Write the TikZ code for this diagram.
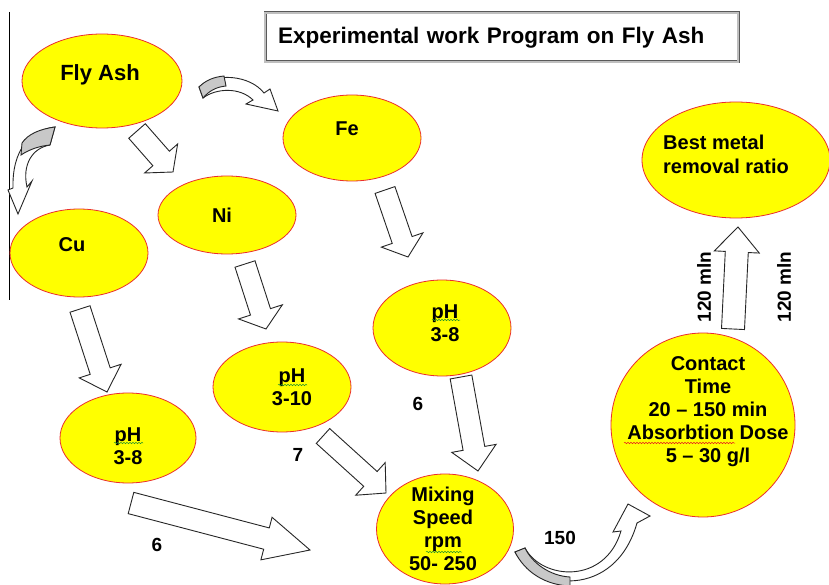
\documentclass[tikz,border=0pt]{standalone}
\usepackage{fontspec}
\setmainfont{Liberation Sans}
\usetikzlibrary{shapes.geometric,calc,decorations.pathmorphing}

\definecolor{ashyellow}{RGB}{255,255,0}
\definecolor{rimred}{RGB}{235,45,45}
\definecolor{facegray}{RGB}{200,200,200}
\definecolor{spellgreen}{RGB}{40,150,40}
\definecolor{spellred}{RGB}{230,30,30}

% hollow block arrow: tail, tip, half shaft, half head, head length
\newcommand{\blockarrow}[5]{%
  \coordinate (bh) at ($(#2)!#5!(#1)$);
  \draw[fatarrow] ($(#1)!#3!-90:(#2)$) -- ($(bh)!#3!90:(#1)$) -- ($(bh)!#4!90:(#1)$) -- (#2)
    -- ($(bh)!#4!-90:(#1)$) -- ($(bh)!#3!-90:(#1)$) -- ($(#1)!#3!90:(#2)$) -- cycle;}

\begin{document}
\begin{tikzpicture}[x=1pt, y=-1pt,
    blob/.style={ellipse, draw=rimred, fill=ashyellow, line width=0.8pt, inner sep=0pt},
    blobtext/.style={font=\fontsize{20}{23}\selectfont\bfseries, align=center, inner sep=0pt},
    fatarrow/.style={draw=black!85, fill=white, line width=0.9pt, line join=miter},
    curl/.style={draw=black!85, fill=white, line width=0.9pt, line join=miter},
    curlface/.style={draw=black!85, fill=facegray, line width=0.9pt},
    note/.style={font=\fontsize{19}{22}\selectfont\bfseries, inner sep=0pt},
    spell/.style={decorate, decoration={snake, segment length=3pt, amplitude=0.7pt}, line width=0.5pt}]
  \useasboundingbox (0,0) rectangle (829,585);
  \fill[white] (0,0) rectangle (829,585);

  % Left rule
  \draw[line width=0.8pt] (9,12) -- (9,300);

  % Title
  \node[draw=black!65, double=black!25, double distance=1.2pt, line width=0.9pt,
        text width=447pt, inner xsep=13pt, minimum height=49pt, align=left,
        font=\fontsize{22.5}{26}\selectfont\bfseries] (title) at (501.5,37.5)
        {Experimental work Program on Fly Ash};

  % Ellipses
  \node[blob, minimum width=160, minimum height=94,
        label={[blobtext, font=\fontsize{22}{26}\selectfont\bfseries, xshift=-2, yshift=6]center:Fly Ash}] (flyash) at (102,81) {};
  \node[blob, minimum width=138, minimum height=88,
        label={[blobtext, xshift=-7, yshift=8]center:Cu}] (cu) at (79,253) {};
  \node[blob, minimum width=138, minimum height=78,
        label={[blobtext, xshift=-5]center:Ni}] (ni) at (227,215) {};
  \node[blob, minimum width=138, minimum height=86,
        label={[blobtext, xshift=-5, yshift=9]center:Fe}] (fe) at (352,138) {};
  \node[blob, minimum width=138, minimum height=90,
        label={[blobtext, xshift=10]center:pH\\3-10}] (phni) at (282,387) {};
  \node[blob, minimum width=136, minimum height=90,
        label={[blobtext, yshift=-8]center:pH\\3-8}] (phcu) at (128,438) {};
  \node[blob, minimum width=138, minimum height=96,
        label={[blobtext, xshift=3, yshift=5]center:pH\\3-8}] (phfe) at (442,328) {};
  \node[blob, minimum width=137, minimum height=110,
        label={[blobtext, xshift=-2]center:Mixing\\Speed\\rpm\\50- 250}] (mixing) at (445,529) {};
  \node[blob, minimum width=184, minimum height=184,
        label={[blobtext, xshift=5, yshift=13]center:Contact\\Time\\20 – 150 min\\Absorbtion Dose\\5 – 30 g/l}] (contact) at (703,425) {};
  \node[blob, minimum width=188, minimum height=116,
        label={[blobtext, align=left, font=\fontsize{20}{24}\selectfont\bfseries, xshift=-10, yshift=6]center:Best metal\\removal ratio}] (best) at (736,160) {};

  % Spelling marks
  \draw[spell, spellgreen] (278,385) -- (307,385);
  \draw[spell, spellgreen] (114,443) -- (143,443);
  \draw[spell, spellgreen] (432,320) -- (460,320);
  \draw[spell, spellgreen] (426,552) -- (462,552);
  \draw[spell, spellred] (624,443) -- (735,443);

  % Arrow ends
  \coordinate (fa-ni-s) at (137,131);   \coordinate (fa-ni-e) at (173,172);
  \coordinate (cu-ph-s) at (80,309);    \coordinate (cu-ph-e) at (107,392);
  \coordinate (ni-ph-s) at (245,264);   \coordinate (ni-ph-e) at (266,329);
  \coordinate (fe-ph-s) at (385,190);   \coordinate (fe-ph-e) at (408,257);
  \coordinate (phfe-mx-s) at (461,377); \coordinate (phfe-mx-e) at (478,471);
  \coordinate (phni-mx-s) at (323,436); \coordinate (phni-mx-e) at (386,493);
  \coordinate (phcu-mx-s) at (131,503); \coordinate (phcu-mx-e) at (310,550);
  \coordinate (ct-be-s) at (733,329);   \coordinate (ct-be-e) at (738,227);

  % Block arrows
  \blockarrow{fa-ni-s}{fa-ni-e}{11pt}{22pt}{18pt}
  \blockarrow{cu-ph-s}{cu-ph-e}{10.5pt}{22pt}{22pt}
  \blockarrow{ni-ph-s}{ni-ph-e}{10.5pt}{23pt}{18pt}
  \blockarrow{fe-ph-s}{fe-ph-e}{10.5pt}{22pt}{18pt}
  \blockarrow{phfe-mx-s}{phfe-mx-e}{11pt}{22.5pt}{23pt}
  \blockarrow{phni-mx-s}{phni-mx-e}{10pt}{22pt}{21pt}
  \blockarrow{phcu-mx-s}{phcu-mx-e}{11pt}{22pt}{45pt}
  \blockarrow{ct-be-s}{ct-be-e}{11.5pt}{22.5pt}{25pt}

  % Curved arrow Fly Ash to Cu
  \draw[curl] (55,127) .. controls (30,130) and (12,150) .. (13,188) -- (8,190) -- (18,214)
    -- (32,181) -- (27,187) .. controls (22,165) and (32,148) .. (50,145) -- cycle;
  \draw[curlface] (55,127) .. controls (40,129) and (28,134) .. (22,143) -- (21,155)
    .. controls (30,149) and (40,146) .. (50,145) -- cycle;

  % Curved arrow Fly Ash to Fe
  \draw[curl] (199,87) .. controls (215,72) and (250,75) .. (264,93) -- (270,89) -- (278,111)
    -- (246,104) -- (253,100) .. controls (240,87) and (216,88) .. (203,98) -- cycle;
  \draw[curlface] (199,87) .. controls (206,80) and (214,77) .. (224,76) -- (226,86)
    .. controls (216,87) and (209,91) .. (203,98) -- cycle;

  % Curved arrow Mixing to Contact
  \draw[curl] (515,552) .. controls (535,590) and (615,600) .. (637,523) -- (650,516) -- (628,504)
    -- (613,532) -- (621,531) .. controls (605,585) and (542,580) .. (525,548) -- cycle;
  \draw[curlface] (515,552) .. controls (525,572) and (545,585) .. (570,586) -- (570,577)
    .. controls (550,576) and (532,563) .. (525,548) -- cycle;

  % Numbers
  \node[note] (n6a) at (157,545) {6};
  \node[note] (n7) at (298,455) {7};
  \node[note] (n6b) at (418,404) {6};
  \node[note] (n150) at (560,538) {150};
  \node[note, rotate=90] (t120a) at (704,287) {120 mln};
  \node[note, rotate=90] (t120b) at (784,287) {120 mln};
\end{tikzpicture}
\end{document}
